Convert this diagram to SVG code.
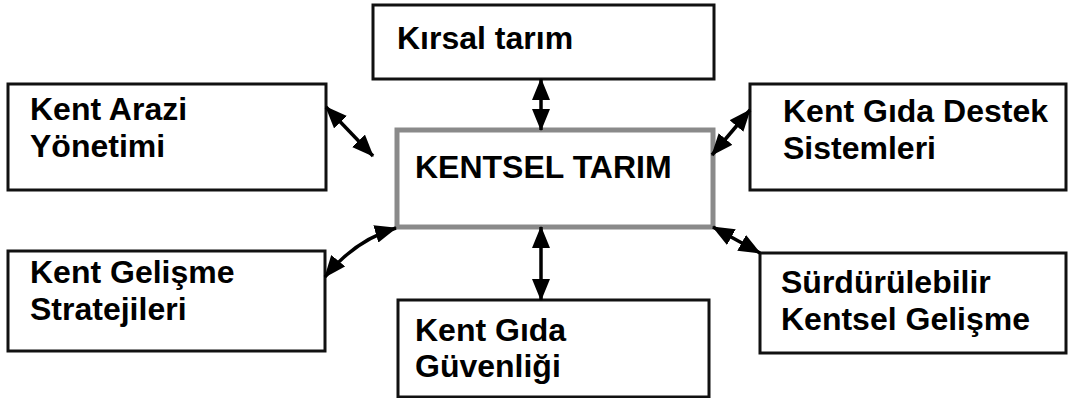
<svg xmlns="http://www.w3.org/2000/svg" width="1068" height="398" viewBox="0 0 1068 398">
<defs>
<style>
.box{fill:#fff;stroke:#111;stroke-width:3}
.core{fill:#fff;stroke:#8a8a8a;stroke-width:5}
.t{font-family:"Liberation Sans",Arial,sans-serif;font-weight:bold;font-size:32px;fill:#000}
.c{fill:none;stroke:#000;stroke-width:3.5}
</style>
<marker id="ah" viewBox="0 0 22 18" refX="21" refY="9" markerWidth="22" markerHeight="18" markerUnits="userSpaceOnUse" orient="auto-start-reverse">
<path d="M0,0 L22,9 L0,18 z" fill="#000"/>
</marker>
</defs>
<rect width="1068" height="398" fill="#fff"/>
<g id="kirsal">
<rect class="box" x="373" y="5" width="341" height="74"/>
<text class="t" x="397" y="49">Kırsal tarım</text>
</g>
<g id="kent-arazi">
<rect class="box" x="8" y="84" width="318" height="106"/>
<text class="t" x="30" y="120">Kent Arazi</text>
<text class="t" x="30" y="157">Yönetimi</text>
</g>
<g id="kentsel-tarim">
<rect class="core" x="397" y="130" width="316" height="97"/>
<text class="t" x="415" y="178">KENTSEL TARIM</text>
</g>
<g id="kent-gida-destek">
<rect class="box" x="750" y="84" width="316" height="106"/>
<text class="t" x="783" y="122">Kent Gıda Destek</text>
<text class="t" x="783" y="159">Sistemleri</text>
</g>
<g id="kent-gelisme">
<rect class="box" x="8" y="251" width="317" height="100"/>
<text class="t" x="30" y="283">Kent Gelişme</text>
<text class="t" x="30" y="320">Stratejileri</text>
</g>
<g id="kent-gida-guvenligi">
<rect class="box" x="398" y="300" width="311" height="97"/>
<text class="t" x="415" y="341">Kent Gıda</text>
<text class="t" x="415" y="377">Güvenliği</text>
</g>
<g id="surdurulebilir">
<rect class="box" x="760" y="253" width="306" height="100"/>
<text class="t" x="781" y="293">Sürdürülebilir</text>
<text class="t" x="781" y="330">Kentsel Gelişme</text>
</g>
<g id="connectors">
<line class="c" x1="541" y1="79" x2="541" y2="130" marker-start="url(#ah)" marker-end="url(#ah)"/>
<line class="c" x1="326" y1="107" x2="373" y2="156" marker-start="url(#ah)" marker-end="url(#ah)"/>
<line class="c" x1="750" y1="110" x2="712" y2="155" marker-start="url(#ah)" marker-end="url(#ah)"/>
<path class="c" d="M325,277 Q355,240 396,228" marker-start="url(#ah)" marker-end="url(#ah)"/>
<line class="c" x1="541" y1="227" x2="541" y2="300" marker-start="url(#ah)" marker-end="url(#ah)"/>
<line class="c" x1="713" y1="227" x2="760" y2="253" marker-start="url(#ah)" marker-end="url(#ah)"/>
</g>
</svg>
